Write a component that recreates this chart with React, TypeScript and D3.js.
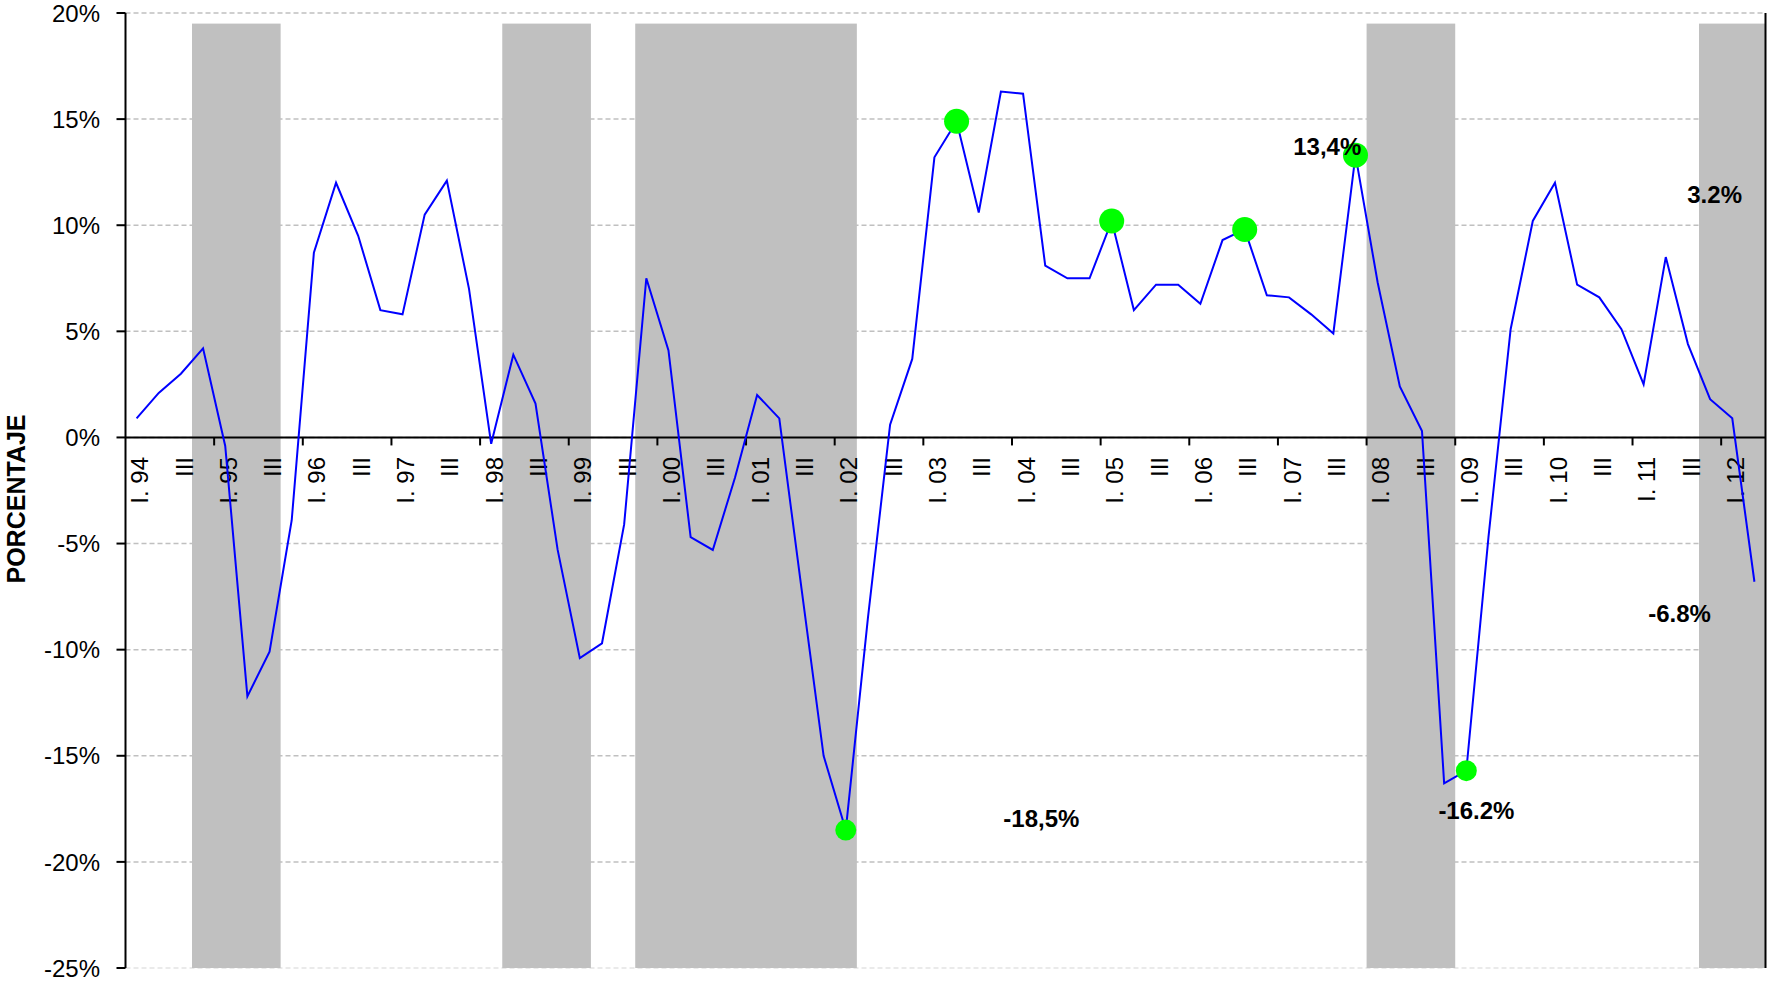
import React, { useEffect } from "react";
import * as d3 from "d3";

const years = ["94", "95", "96", "97", "98", "99", "00", "01", "02", "03", "04", "05", "06", "07", "08", "09", "10", "11", "12"];
const quarterNames = ["I", "II", "III", "IV"];
const lastYearQuarters = 2;

const values = [
  0.9, 2.1, 3.0, 4.2,
  -0.4, -12.2, -10.1, -3.9,
  8.7, 12.0, 9.5, 6.0,
  5.8, 10.5, 12.1, 7.0,
  -0.3, 3.9, 1.6, -5.3,
  -10.4, -9.7, -4.1, 7.5,
  4.1, -4.7, -5.3, -1.9,
  2.0, 0.9, -7.1, -15.0,
  -18.5, -8.5, 0.6, 3.7,
  13.2, 14.9, 10.6, 16.3,
  16.2, 8.1, 7.5, 7.5,
  10.2, 6.0, 7.2, 7.2,
  6.3, 9.3, 9.8, 6.7,
  6.6, 5.8, 4.9, 13.3,
  7.3, 2.4, 0.3, -16.3,
  -15.7, -4.7, 5.1, 10.2,
  12.0, 7.2, 6.6, 5.1,
  2.5, 8.5, 4.4, 1.8,
  0.9, -6.8,
];

// recession shading: [first quarter index, last quarter index]
const recessions: [number, number][] = [
  [3, 6],
  [17, 20],
  [23, 32],
  [56, 59],
  [71, 73],
];
const recessionTop = 19.5;

const peakMarkers = [37, 44, 50, 55];
const troughMarkers = [32, 60];

const yTicks = [20, 15, 10, 5, 0, -5, -10, -15, -20, -25];

const annotations = [
  { text: "13,4%", cat: 52.19, value: 13.31 },
  { text: "3.2%", cat: 69.97, value: 11.03 },
  { text: "-6.8%", cat: 68.21, value: -8.68 },
  { text: "-16.2%", cat: 58.74, value: -18.0 },
  { text: "-18,5%", cat: 39.11, value: -18.34 },
];

const categories: { label: string }[] = [];
years.forEach((yy, yi) => {
  const nq = yi === years.length - 1 ? lastYearQuarters : 4;
  for (let q = 0; q < nq; q++) {
    categories.push({ label: q === 0 ? `I. ${yy}` : q === 2 ? "III" : "" });
  }
});

export default function App() {
  useEffect(() => {
    document.body.style.margin = "0";
    document.body.style.overflow = "hidden";
  }, []);

  const W = 1767;
  const H = 987;
  const left = 125.5;
  const right = 1765.5;
  const top = 13;
  const bottom = 968;
  const n = categories.length;

  const x = d3.scaleLinear().domain([-0.5, n - 0.5]).range([left, right]);
  const y = d3.scaleLinear().domain([-25, 20]).range([bottom, top]);

  const line = d3
    .line<number>()
    .x((_, i) => x(i))
    .y((d) => y(d));

  const font = "Arial, 'Liberation Sans', Helvetica, sans-serif";
  const yearTicks = d3.range(1, years.length).map((k) => 4 * k - 0.5);

  return (
    <svg
      width={W}
      height={H}
      style={{ position: "absolute", left: 0, top: 0, display: "block", background: "#fff" }}
      fontFamily={font}
    >
      {/* gridlines */}
      {yTicks.map((t) => (
        <line
          key={"g" + t}
          x1={left}
          x2={right}
          y1={y(t)}
          y2={y(t)}
          stroke={t === -25 ? "#E4E4E4" : "#C0C0C0"}
          strokeWidth={1.5}
          strokeDasharray="5,3"
        />
      ))}
      {/* recession bands */}
      {recessions.map(([a, b], i) => (
        <rect
          key={"r" + i}
          x={x(a - 0.5)}
          width={x(b + 0.5) - x(a - 0.5)}
          y={y(recessionTop)}
          height={y(-25) - y(recessionTop)}
          fill="#C0C0C0"
        />
      ))}
      {/* zero line */}
      <line x1={left} x2={right} y1={y(0)} y2={y(0)} stroke="#000" strokeWidth={2} />
      {yearTicks.map((t) => (
        <line key={"xt" + t} x1={x(t)} x2={x(t)} y1={y(0)} y2={y(0) + 8} stroke="#000" strokeWidth={2} />
      ))}
      {/* y axis */}
      <line x1={left} x2={left} y1={top} y2={bottom} stroke="#000" strokeWidth={2} />
      <line x1={right} x2={right} y1={top} y2={bottom} stroke="#000" strokeWidth={2} />
      {yTicks.map((t) => (
        <g key={"yt" + t}>
          <line x1={left - 9} x2={left} y1={y(t)} y2={y(t)} stroke="#000" strokeWidth={2} />
          <text x={100} y={y(t)} dy="0.36em" textAnchor="end" fontSize={24} fill="#000">
            {`${t}%`}
          </text>
        </g>
      ))}
      {/* x labels */}
      {categories.map((c, i) =>
        c.label ? (
          <text
            key={"xl" + i}
            transform={`translate(${x(i) + 11.6},457) rotate(-90)`}
            textAnchor="end"
            fontSize={24}
            fill="#000"
          >
            {c.label}
          </text>
        ) : null
      )}
      {/* y title */}
      <text
        transform={`translate(25,499) rotate(-90)`}
        textAnchor="middle"
        fontSize={25}
        fontWeight="bold"
        fill="#000"
      >
        PORCENTAJE
      </text>
      {/* data line */}
      <path d={line(values) || ""} fill="none" stroke="#0000FF" strokeWidth={2} strokeLinejoin="miter" />
      {/* markers */}
      {peakMarkers.map((i) => (
        <circle key={"pm" + i} cx={x(i)} cy={y(values[i])} r={12.5} fill="#00FF00" />
      ))}
      {troughMarkers.map((i) => (
        <circle key={"tm" + i} cx={x(i)} cy={y(values[i])} r={10.5} fill="#00FF00" />
      ))}
      {/* annotations */}
      {annotations.map((a) => (
        <text
          key={a.text}
          x={x(a.cat)}
          y={y(a.value)}
          fontSize={24}
          fontWeight="bold"
          fill="#000"
        >
          {a.text}
        </text>
      ))}
    </svg>
  );
}
